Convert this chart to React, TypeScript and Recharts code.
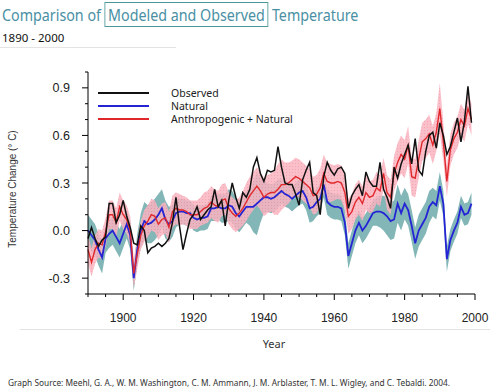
import { ComposedChart, Line, Area, XAxis, YAxis } from 'recharts'

const startYear = 1890

// Observed global mean temperature change (°C), 1890–1999
const observed = [
  -0.05, 0.02, -0.05, -0.10, -0.06, -0.04, 0.17, 0.17, 0.05, 0.10,
  0.19, 0.09, 0.02, -0.08, -0.09, 0.03, 0.00, -0.14, -0.11, -0.10,
  -0.08, -0.10, -0.08, -0.05, 0.05, 0.21, 0.03, -0.12, -0.02, 0.07,
  0.10, 0.15, 0.07, 0.10, 0.13, 0.15, 0.26, 0.15, 0.19, 0.03,
  0.19, 0.30, 0.21, 0.14, 0.24, 0.21, 0.26, 0.40, 0.46, 0.36,
  0.31, 0.38, 0.37, 0.38, 0.53, 0.40, 0.30, 0.29, 0.29, 0.23,
  0.16, 0.32, 0.38, 0.43, 0.24, 0.22, 0.10, 0.34, 0.43, 0.38,
  0.35, 0.39, 0.40, 0.36, 0.14, 0.22, 0.26, 0.29, 0.22, 0.37,
  0.31, 0.28, 0.28, 0.43, 0.26, 0.21, 0.14, 0.40, 0.33, 0.42,
  0.48, 0.54, 0.42, 0.58, 0.38, 0.35, 0.50, 0.60, 0.62, 0.52,
  0.68, 0.60, 0.48, 0.53, 0.62, 0.71, 0.56, 0.69, 0.91, 0.68,
]

// Natural forcing ensemble mean
const natural = [
  0.00, -0.03, -0.06, -0.12, -0.17, -0.05, -0.02, 0.00, -0.04, -0.08,
  -0.02, 0.04, -0.03, -0.30, -0.12, 0.00, 0.06, 0.04, 0.05, 0.07,
  0.10, 0.14, 0.07, 0.04, 0.06, 0.11, 0.12, 0.12, 0.11, 0.11,
  0.08, 0.07, 0.08, 0.08, 0.09, 0.14, 0.14, 0.15, 0.14, 0.14,
  0.16, 0.15, 0.11, 0.09, 0.12, 0.15, 0.15, 0.15, 0.17, 0.19,
  0.21, 0.21, 0.20, 0.21, 0.23, 0.25, 0.23, 0.22, 0.20, 0.22,
  0.24, 0.25, 0.21, 0.14, 0.15, 0.18, 0.20, 0.29, 0.18, 0.16,
  0.15, 0.15, 0.14, 0.05, -0.16, -0.08, 0.00, 0.05, 0.00, 0.03,
  0.07, 0.11, 0.12, 0.12, 0.11, 0.09, 0.06, 0.07, 0.17, 0.11,
  0.17, 0.13, 0.03, -0.08, 0.00, 0.04, 0.08, 0.15, 0.18, 0.16,
  0.28, 0.17, -0.18, -0.06, 0.00, 0.05, 0.15, 0.10, 0.11, 0.17,
]

// Anthropogenic + natural ensemble mean
const anthro = [
  -0.12, -0.20, -0.12, -0.08, -0.09, -0.01, 0.10, 0.10, 0.05, 0.15,
  0.10, 0.07, 0.00, -0.27, -0.15, -0.03, 0.03, 0.06, 0.10, 0.09,
  0.04, 0.07, 0.08, 0.02, 0.12, 0.14, 0.13, 0.13, 0.12, 0.10,
  0.10, 0.10, 0.12, 0.14, 0.15, 0.18, 0.16, 0.15, 0.19, 0.20,
  0.14, 0.11, 0.09, 0.11, 0.14, 0.18, 0.22, 0.25, 0.28, 0.25,
  0.21, 0.23, 0.24, 0.24, 0.26, 0.29, 0.29, 0.30, 0.32, 0.34,
  0.33, 0.31, 0.29, 0.27, 0.22, 0.23, 0.27, 0.36, 0.31, 0.30,
  0.30, 0.31, 0.30, 0.24, 0.09, 0.12, 0.18, 0.21, 0.17, 0.24,
  0.21, 0.22, 0.27, 0.25, 0.36, 0.24, 0.21, 0.36, 0.43, 0.48,
  0.45, 0.54, 0.34, 0.33, 0.45, 0.56, 0.58, 0.61, 0.54, 0.62,
  0.77, 0.56, 0.31, 0.51, 0.58, 0.62, 0.70, 0.66, 0.77, 0.70,
]

// ensemble range half-widths
const natSpread = [
  0.10, 0.10, 0.10, 0.10, 0.10, 0.09, 0.09, 0.09, 0.09, 0.09,
  0.09, 0.09, 0.09, 0.08, 0.10, 0.11, 0.12, 0.12, 0.13, 0.13,
  0.13, 0.12, 0.12, 0.11, 0.10, 0.09, 0.08, 0.08, 0.08, 0.08,
  0.08, 0.08, 0.08, 0.08, 0.08, 0.08, 0.08, 0.08, 0.09, 0.09,
  0.10, 0.10, 0.10, 0.10, 0.10, 0.10, 0.12, 0.16, 0.20, 0.14,
  0.10, 0.09, 0.09, 0.09, 0.09, 0.08, 0.08, 0.08, 0.08, 0.08,
  0.08, 0.08, 0.08, 0.09, 0.09, 0.09, 0.09, 0.08, 0.08, 0.08,
  0.08, 0.08, 0.08, 0.08, 0.08, 0.08, 0.08, 0.08, 0.08, 0.08,
  0.08, 0.08, 0.09, 0.10, 0.11, 0.12, 0.12, 0.12, 0.12, 0.11,
  0.10, 0.10, 0.10, 0.10, 0.10, 0.10, 0.10, 0.10, 0.09, 0.09,
  0.09, 0.08, 0.08, 0.07, 0.07, 0.07, 0.07, 0.07, 0.07, 0.07,
]

const anthSpread = [
  0.09, 0.09, 0.09, 0.09, 0.09, 0.09, 0.09, 0.09, 0.09, 0.09,
  0.09, 0.09, 0.09, 0.09, 0.09, 0.09, 0.10, 0.10, 0.10, 0.10,
  0.10, 0.10, 0.10, 0.10, 0.10, 0.10, 0.10, 0.09, 0.09, 0.09,
  0.09, 0.09, 0.09, 0.10, 0.10, 0.10, 0.10, 0.10, 0.10, 0.10,
  0.10, 0.10, 0.10, 0.10, 0.11, 0.12, 0.12, 0.12, 0.12, 0.12,
  0.12, 0.12, 0.12, 0.14, 0.16, 0.16, 0.14, 0.13, 0.12, 0.12,
  0.12, 0.12, 0.12, 0.12, 0.12, 0.12, 0.12, 0.12, 0.12, 0.12,
  0.11, 0.11, 0.11, 0.11, 0.11, 0.11, 0.11, 0.11, 0.11, 0.11,
  0.10, 0.10, 0.10, 0.10, 0.10, 0.11, 0.11, 0.11, 0.12, 0.12,
  0.12, 0.12, 0.12, 0.12, 0.12, 0.12, 0.12, 0.12, 0.12, 0.12,
  0.16, 0.12, 0.10, 0.10, 0.10, 0.10, 0.10, 0.10, 0.10, 0.10,
]

const xTicks = [
  1890, 1895, 1900, 1905, 1910, 1915, 1920, 1925, 1930, 1935, 1940, 1945,
  1950, 1955, 1960, 1965, 1970, 1975, 1980, 1985, 1990, 1995, 2000,
]
const xLabels = [1900, 1920, 1940, 1960, 1980, 2000]
const yTicks = [-0.4, -0.3, -0.2, -0.1, 0, 0.1, 0.2, 0.3, 0.4, 0.5, 0.6, 0.7, 0.8, 0.9, 1.0]
const yLabels = [-0.3, 0, 0.3, 0.6, 0.9]

const legendItems = [
  { name: 'Observed', color: '#111111' },
  { name: 'Natural', color: '#2424d4' },
  { name: 'Anthropogenic + Natural', color: '#e0282c' },
]

const data = observed.map((v, i) => ({
  year: startYear + i,
  observed: v,
  natural: natural[i],
  anthro: anthro[i],
  natBand: [natural[i] - natSpread[i], natural[i] + natSpread[i]],
  anthBand: [anthro[i] - anthSpread[i], anthro[i] + anthSpread[i]],
}))

const isLabelX = (v: number) => xLabels.includes(v)
const isLabelY = (v: number) => yLabels.some(l => Math.abs(l - v) < 1e-6)

const tickFont = '"Liberation Sans", Arial, sans-serif'

function BottomTick({ x, y, payload }: any) {
  const major = isLabelX(payload.value)
  return (
    <g>
      <line x1={x} x2={x} y1={y} y2={y + (major ? 6 : 3)} stroke="#000" />
      {major && (
        <text x={x} y={y + 28} textAnchor="middle" fontSize={12} fontFamily={tickFont} fill="#222">
          {payload.value}
        </text>
      )}
    </g>
  )
}

function TopTick({ x, y, payload }: any) {
  const major = isLabelX(payload.value)
  return <line x1={x} x2={x} y1={y} y2={y - (major ? 7 : 3)} stroke="#000" />
}

function LeftTick({ x, y, payload }: any) {
  const major = isLabelY(payload.value)
  return (
    <g>
      <line x1={x} x2={x - (major ? 6 : 3)} y1={y} y2={y} stroke="#000" />
      {major && (
        <text x={x - 18} y={y + 4.5} textAnchor="end" fontSize={12.5} fontFamily={tickFont} fill="#222">
          {payload.value.toFixed(1)}
        </text>
      )}
    </g>
  )
}

function RightTick({ x, y, payload }: any) {
  const major = isLabelY(payload.value)
  return <line x1={x} x2={x + (major ? 6 : 3)} y1={y} y2={y} stroke="#000" />
}

export default function App() {
  return (
    <div style={{ position: 'absolute', left: 0, top: 0, width: 490, height: 391, background: '#fff', fontFamily: '"Noto Sans", sans-serif' }}>
      <div
        style={{
          position: 'absolute', left: 2, top: 4, fontSize: 17, lineHeight: '22px', color: '#4a8fa4',
          whiteSpace: 'nowrap', transform: 'scaleX(0.84)', transformOrigin: '0 0',
        }}
      >
        Comparison of{' '}
        <span style={{ border: '1.5px solid #4f9898', padding: '0 3px' }}>Modeled and Observed</span>{' '}
        Temperature
      </div>
      <div style={{ position: 'absolute', left: 2, top: 30, fontSize: 11.5, color: '#111' }}>1890 - 2000</div>
      <div style={{ position: 'absolute', left: 0, top: 47, width: 176, height: 1, background: '#e4e4e4' }} />

      <ComposedChart
        width={490}
        height={391}
        data={data}
        margin={{ top: 72, right: 15, bottom: 67, left: 0 }}
        style={{ position: 'absolute', left: 0, top: 0 }}
      >
        <defs>
          <pattern id="pinkDots" width="3" height="3" patternUnits="userSpaceOnUse">
            <rect width="3" height="3" fill="#f9b4c0" />
            <rect x="1" y="1" width="1" height="1" fill="#f197a6" />
          </pattern>
        </defs>
        <XAxis
          dataKey="year"
          type="number"
          domain={[1890, 2000]}
          ticks={xTicks}
          interval={0}
          height={30}
          tickSize={0}
          tickMargin={0}
          tickLine={false}
          axisLine={{ stroke: '#000' }}
          tick={<BottomTick />}
        />
        <XAxis
          xAxisId="top"
          orientation="top"
          dataKey="year"
          type="number"
          domain={[1890, 2000]}
          ticks={xTicks}
          interval={0}
          height={0}
          tickSize={0}
          tickMargin={0}
          tickLine={false}
          axisLine={{ stroke: '#000' }}
          tick={<TopTick />}
        />
        <YAxis
          type="number"
          domain={[-0.4, 1.0]}
          ticks={yTicks}
          interval={0}
          width={88}
          tickSize={0}
          tickMargin={0}
          tickLine={false}
          axisLine={{ stroke: '#000' }}
          tick={<LeftTick />}
        />
        <YAxis
          yAxisId="right"
          orientation="right"
          type="number"
          domain={[-0.4, 1.0]}
          ticks={yTicks}
          interval={0}
          width={0}
          tickSize={0}
          tickMargin={0}
          tickLine={false}
          axisLine={{ stroke: '#000' }}
          tick={<RightTick />}
        />
        <Area dataKey="natBand" type="linear" stroke="none" fill="#83b6b7" fillOpacity={1} isAnimationActive={false} />
        <Line dataKey="natural" type="linear" stroke="#2424d4" strokeWidth={1.8} dot={false} isAnimationActive={false} />
        <Area dataKey="anthBand" type="linear" stroke="none" fill="url(#pinkDots)" fillOpacity={0.85} isAnimationActive={false} />
        <Line dataKey="anthro" type="linear" stroke="#e0282c" strokeWidth={1.4} dot={false} isAnimationActive={false} />
        <Line dataKey="observed" type="linear" stroke="#111" strokeWidth={1.5} dot={false} isAnimationActive={false} />
      </ComposedChart>

      <svg style={{ position: 'absolute', left: 0, top: 0 }} width={490} height={391}>
        {legendItems.map((it, i) => (
          <g key={it.name}>
            <line x1={98} x2={149} y1={93 + i * 13} y2={93 + i * 13} stroke={it.color} strokeWidth={2} />
            <text x={171} y={97 + i * 13} fontSize={10.5} fontFamily='"Noto Sans", sans-serif' fill="#222">
              {it.name}
            </text>
          </g>
        ))}
        <text
          transform="translate(16,189) rotate(-90)"
          textAnchor="middle"
          fontSize={10}
          fontFamily={tickFont}
          fill="#333"
        >
          Temperature Change (° C)
        </text>
        <text x={274} y={348} textAnchor="middle" fontSize={11} fontFamily='"Noto Sans", sans-serif' fill="#333">
          Year
        </text>
        <line x1={20} x2={490} y1={329.5} y2={329.5} stroke="#e2e2e2" />
        <text x={8} y={386} fontSize={9} fontFamily='"Liberation Sans Narrow", "Noto Sans", sans-serif' fill="#333" textLength={442} lengthAdjust="spacingAndGlyphs">
          Graph Source: Meehl, G. A., W. M. Washington, C. M. Ammann, J. M. Arblaster, T. M. L. Wigley, and C. Tebaldi. 2004.
        </text>
      </svg>
    </div>
  )
}
